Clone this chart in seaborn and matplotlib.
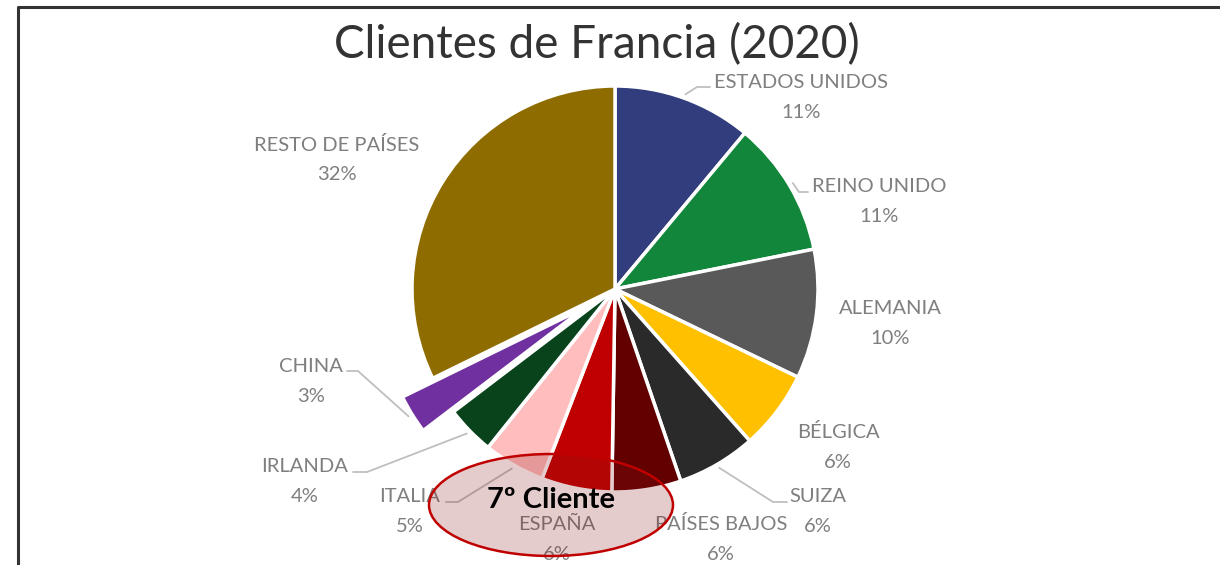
import numpy as np
import matplotlib
matplotlib.use("Agg")
import matplotlib.pyplot as plt
import seaborn as sns
from matplotlib.patches import Ellipse

# ---- data ----
paises = ["ESTADOS UNIDOS", "REINO UNIDO", "ALEMANIA", "BÉLGICA", "SUIZA",
          "PAÍSES BAJOS", "ESPAÑA", "ITALIA", "IRLANDA", "CHINA", "RESTO DE PAÍSES"]
cuotas = [11.05, 10.8, 10.3, 6.3, 6.3, 5.5, 5.6, 4.9, 3.9, 3.1, 32.25]
etiquetas_pct = [11, 11, 10, 6, 6, 6, 6, 5, 4, 3, 32]
colores = ["#323D7D", "#12863A", "#595959", "#FFC000", "#2A2A2A",
           "#620000", "#C00000", "#FFBDBD", "#08431C", "#7030A0", "#8E6C00"]
titulo = "Clientes de Francia (2020)"
nota = "7º Cliente"

# ---- style ----
sns.set_theme(style="white")
plt.rcParams["font.family"] = ["Lato", "DejaVu Sans"]

W, H = 1220, 565
fig = plt.figure(figsize=(W / 100, H / 100), dpi=100)
ax = fig.add_axes([0, 0, 1, 1])
ax.set_axis_off()

def Y(y):
    return H - y

cx, cy, R = 615, Y(289), 203
explode_frac = [0.175 if p == "CHINA" else 0 for p in paises]
explode = [f * R for f in explode_frac]
wedges, _ = ax.pie(cuotas, colors=colores, startangle=90, counterclock=False,
                   center=(cx, cy), radius=R, explode=explode,
                   wedgeprops=dict(edgecolor="white", linewidth=2.5),
                   frame=False)
ax.set_xlim(0, W)
ax.set_ylim(0, H)
ax.set_aspect("equal")

# label layout (pixel positions of label centers, top row)
label_pos = {
    "ESTADOS UNIDOS": (801, 83), "REINO UNIDO": (879, 187), "ALEMANIA": (890, 308),
    "BÉLGICA": (838, 432), "SUIZA": (818, 497), "PAÍSES BAJOS": (721, 524),
    "ESPAÑA": (557, 524), "ITALIA": (410, 497), "IRLANDA": (305, 467),
    "CHINA": (311, 366), "RESTO DE PAÍSES": (337, 145),
}
# leader lines: elbow and end (pixel coords)
leaders = {
    "ESTADOS UNIDOS": [(697, 87), (710, 87)],
    "REINO UNIDO": [(799, 192), (808, 192)],
    "SUIZA": [(773, 502), (787, 502)],
    "ITALIA": [(458, 502), (446, 502)],
    "IRLANDA": [(367, 472), (353, 472)],
    "CHINA": [(358, 371), (347, 371)],
}
gray = "#7F7F7F"
for w, name, pct, ex in zip(wedges, paises, etiquetas_pct, explode):
    x, y = label_pos[name]
    ax.text(x, Y(y), name, ha="center", va="center", fontsize=14.5, color=gray, zorder=3)
    ax.text(x, Y(y + 30), f"{pct}%", ha="center", va="center", fontsize=14.5, color=gray, zorder=3)
    if name in leaders:
        mid = np.deg2rad((w.theta1 + w.theta2) / 2)
        r0 = R + ex + 4
        sx, sy = cx + r0 * np.cos(mid), cy + r0 * np.sin(mid)
        pts = [(sx, sy)] + [(px, Y(py)) for px, py in leaders[name]]
        ax.plot([p[0] for p in pts], [p[1] for p in pts], color="#BFBFBF", lw=1.3, zorder=2)

# highlight ellipse
ell = Ellipse((551, Y(505)), 244, 102, facecolor=(0.55, 0.1, 0.1, 0.22),
              edgecolor="#C00000", linewidth=1.8, zorder=5)
ax.add_patch(ell)
ax.text(551, Y(500), nota, ha="center", va="center", fontsize=21, fontweight="bold",
        color="black", zorder=6)

# title
ax.text(597, Y(45), titulo, ha="center", va="center", fontsize=33, color="#333333", zorder=3)

# frame
ax.plot([18, 18, W], [0, Y(7), Y(7)], color="#333333", lw=2.2, zorder=7, solid_capstyle="butt")

fig.savefig("out.png", dpi=100)
